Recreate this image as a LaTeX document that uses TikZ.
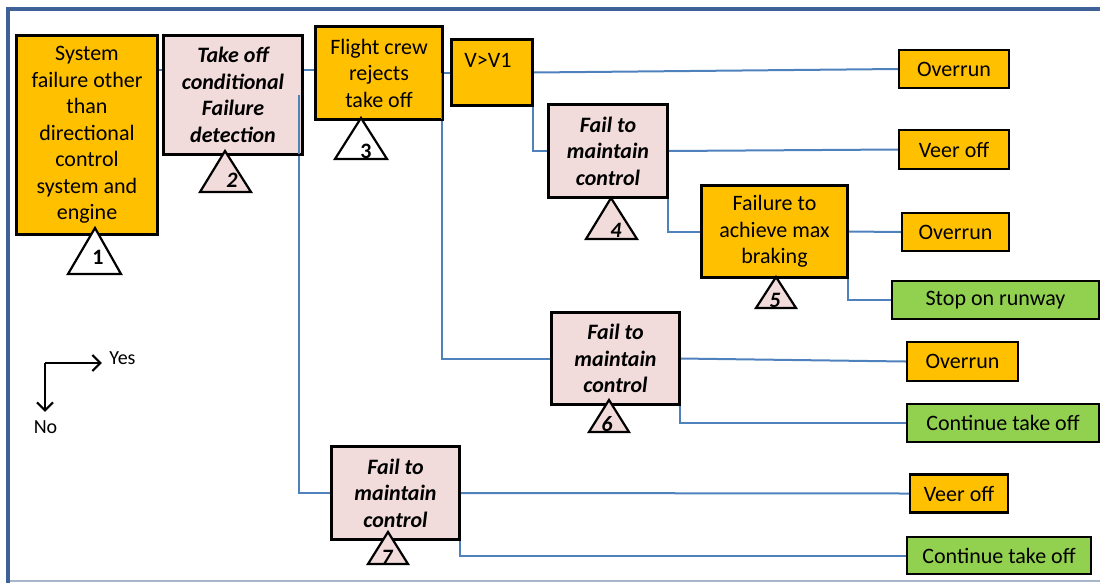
\documentclass[tikz,border=0pt]{standalone}
\usepackage{fontspec}
\setmainfont{Carlito}
\usetikzlibrary{arrows.meta}
\definecolor{boxorange}{HTML}{FFC000}
\definecolor{boxpink}{HTML}{F2DCDB}
\definecolor{boxgreen}{HTML}{92D050}
\definecolor{linkblue}{HTML}{4F81BD}
\definecolor{framedark}{HTML}{3E6298}
\definecolor{framelight}{HTML}{A7B6CA}

\begin{document}
\begin{tikzpicture}[x=1pt,y=-1pt,
  every node/.style={font=\fontsize{22}{26.5}\selectfont},
  box/.style={draw=black, line width=2.2pt, inner sep=0pt, align=center},
  eventbox/.style={box, fill=boxorange},
  condbox/.style={box, fill=boxpink, font=\fontsize{22}{26.5}\selectfont\bfseries\itshape},
  okbox/.style={box, fill=boxgreen},
  conn/.style={draw=linkblue, line width=2pt},
  tri/.style={draw=black, line width=2.2pt, line join=miter},
  trinum/.style={font=\fontsize{22}{24}\selectfont\bfseries, inner sep=0pt},
  trinumit/.style={font=\fontsize{22}{24}\selectfont\bfseries\itshape, inner sep=0pt},
  legendarrow/.style={draw=black, line width=2.2pt, -{Straight Barb[length=8pt,width=16pt]}},
  legendtext/.style={font=\fontsize{20}{24}\selectfont}
]
\useasboundingbox (0,0) rectangle (1100,582);

% outer frame
\draw[framelight, line width=1.5pt] (8,581) -- (1100,581);
\draw[framedark, line width=4pt] (8,590) -- (8,9) -- (1100,9);

% event and condition boxes
\node[eventbox, minimum width=140, minimum height=198] (n1) at (87,135)
  {System\\failure other\\than\\directional\\control\\system and\\engine};
\node[condbox, minimum width=138, minimum height=118] (n2) at (233,95)
  {Take off\\conditional\\Failure\\detection};
\node[eventbox, minimum width=126, minimum height=92] (n3) at (379,73)
  {Flight crew\\rejects\\take off};
\node[eventbox, minimum width=80, minimum height=65] (nv) at (492,72.5) {};
\node[condbox, minimum width=118, minimum height=92] (n4) at (608,151)
  {Fail to\\maintain\\control};
\node[eventbox, minimum width=145, minimum height=91] (n5) at (774.5,231.5)
  {Failure to\\achieve max\\braking};
\node[condbox, minimum width=127, minimum height=91] (n6) at (615.5,358.5)
  {Fail to\\maintain\\control};
\node[condbox, minimum width=127, minimum height=92] (n7) at (395.5,493)
  {Fail to\\maintain\\control};

% outcome boxes
\node[eventbox, minimum width=110, minimum height=38] (o1) at (954,69) {Overrun};
\node[eventbox, minimum width=110, minimum height=39] (o2) at (954,149.5) {Veer off};
\node[eventbox, minimum width=107, minimum height=38] (o3) at (955.5,232) {Overrun};
\node[okbox, minimum width=207, minimum height=38] (o4) at (995.5,300) {Stop on runway};
\node[eventbox, minimum width=111, minimum height=39] (o5) at (962.5,361.5) {Overrun};
\node[okbox, minimum width=192, minimum height=38] (o6) at (1003,423) {Continue take off};
\node[eventbox, minimum width=98, minimum height=38] (o7) at (959,493.5) {Veer off};
\node[okbox, minimum width=184, minimum height=37] (o8) at (999,555.5) {Continue take off};

% yes / no branches
\draw[conn] ([yshift=-35]n1.north east) -- ([yshift=-35]n2.north west);
\draw[conn] ([yshift=-35]n2.north east) -- ([yshift=-35]n2.north east -| n3.west);
\draw[conn] ([xshift=-4]n2.east) |- (n7.west);
\draw[conn] (n3.east) -- (n3.east -| nv.west);
\draw[conn] ([xshift=-1]n3.east) |- (n6.west);
\draw[conn] (nv.east) -- (o1.west);
\draw[conn] (nv.east) |- (n4.west);
\draw[conn] (n4.east) -- (o2.west);
\draw[conn] (n4.east) |- (n5.west);
\draw[conn] (n5.east) -- (o3.west);
\draw[conn] (n5.east) |- (o4.west);
\draw[conn] (n6.east) -- (o5.west);
\draw[conn] (n6.east) |- (o6.west);
\draw[conn] (n7.east) -- (o7.west);
\draw[conn] (n7.east) |- (o8.west);

% redraw box outlines over the connector ends
\foreach \b in {n1,n2,n3,nv,n4,n5,n6,n7}
  \draw[black, line width=2.2pt] (\b.north west) rectangle (\b.south east);

\node (nvlabel) at ([xshift=-4,yshift=-22]nv.north) {V>V1};

% numbered triangles
\draw[tri, fill=white]   (95,228) -- (68,274) -- (121,274) -- cycle;
\node[trinum] (t1) at (98,257) {1};
\draw[tri, fill=boxpink] (225,151) -- (200,192) -- (251,192) -- cycle;
\node[trinumit] (t2) at (232,180) {2};
\draw[tri, fill=white]   (361,118) -- (335,159) -- (387,159) -- cycle;
\node[trinum] (t3) at (366,151) {3};
\draw[tri, fill=boxpink] (611,198) -- (586,239) -- (637,239) -- cycle;
\node[trinumit] (t4) at (616,230) {4};
\draw[tri, fill=boxpink] (776,277) -- (756,308) -- (796,308) -- cycle;
\node[trinumit] (t5) at (775,300) {5};
\draw[tri, fill=boxpink] (609,400) -- (589,432) -- (629,432) -- cycle;
\node[trinumit] (t6) at (607,424) {6};
\draw[tri, fill=boxpink] (388,532) -- (368,564) -- (408,564) -- cycle;
\node[trinumit] (t7) at (387,557) {7};

% legend
\coordinate (lg) at (45,363);
\node[legendtext] (yes) at (122.5,358) {Yes};
\node[legendtext] (no) at (45.5,427) {No};
\draw[legendarrow, shorten >=4pt] (lg) -- (lg -| yes.west);
\draw[legendarrow, shorten >=5pt] (lg) -- (lg |- no.north);
\end{tikzpicture}
\end{document}
